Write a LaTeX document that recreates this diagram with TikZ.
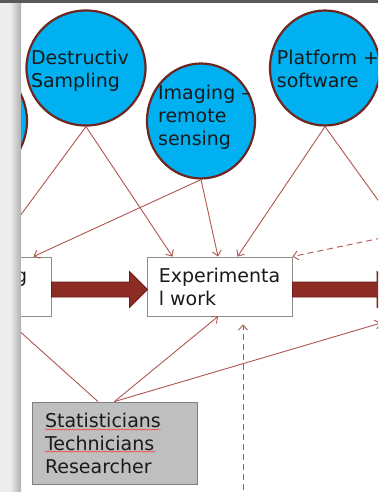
\documentclass[tikz,border=0pt]{standalone}
\usepackage{fontspec}
\setmainfont{DejaVu Sans}
\usetikzlibrary{arrows.meta,calc,shapes.geometric,decorations.pathmorphing}

\definecolor{bubblefill}{HTML}{00B0F0}
\definecolor{bubbleedge}{HTML}{6E261F}
\definecolor{connred}{HTML}{B05550}
\definecolor{fatred}{HTML}{8C2C25}
\definecolor{fatedge}{HTML}{6A1E19}
\definecolor{boxedge}{HTML}{8E8E8E}
\definecolor{staffgray}{HTML}{BFBFBF}
\definecolor{inktext}{HTML}{1A1A1A}

\def\slidefont{\fontsize{19}{23}\selectfont}
\tikzstyle{bubble}=[ellipse,draw=bubbleedge,line width=2.2pt,fill=bubblefill,inner sep=0pt]
\tikzstyle{bubbletext}=[inner sep=0pt,align=left,text=inktext,font=\slidefont]
\tikzstyle{workbox}=[rectangle,draw=boxedge,line width=0.9pt,fill=white,minimum width=145pt,minimum height=59pt,inner sep=0pt,align=left,text=inktext,font=\slidefont]
\tikzstyle{staffbox}=[rectangle,draw=gray,line width=0.9pt,fill=staffgray,text width=139pt,inner xsep=13pt,inner ysep=0pt,minimum height=82pt,align=left,text=inktext,font=\slidefont]
\tikzstyle{conn}=[draw=connred,line width=0.9pt,-{Straight Barb[length=5pt,width=9pt]}]
\tikzstyle{dconn}=[conn,dash pattern=on 6pt off 4pt]
\tikzstyle{fatbody}=[draw=fatedge,fill=fatred,line width=0.8pt,line join=miter]
\tikzstyle{spell}=[draw=red!80,line width=0.4pt,decorate,decoration={snake,amplitude=0.6pt,segment length=2.5pt}]

% thick block arrow from #1 to #2
\newcommand\fatarrow[2]{%
  \draw[fatbody] ($(#1)+(0,-4.5)$) -- ($(#2)+(-17,-4.5)$) -- ($(#2)+(-17,-15)$)
    -- ($(#2)+(1,3)$) -- ($(#2)+(-17,21)$) -- ($(#2)+(-17,10.5)$)
    -- ($(#1)+(0,10.5)$) -- cycle;}

\begin{document}
\begin{tikzpicture}[x=1pt,y=-1pt]
  \useasboundingbox (0,0) rectangle (378,492);
  % slide and its shadow
  \fill[white] (21,3) rectangle (378,492);
  \fill[gray!14] (0,3) rectangle (10,492);
  \shade[left color=gray!14,right color=gray!62] (10,3) rectangle (21,492);
  \fill[black!65] (0,0) rectangle (378,3);

  \begin{scope}
    \clip (21,3) rectangle (378,492);
    % bubbles
    \node[bubble,minimum width=110pt,minimum height=115pt] (leftc) at (-28,121) {};
    \node[bubble,minimum width=119pt,minimum height=115pt,
      label={[bubbletext,xshift=-6pt,yshift=-2.7pt]center:Destructiv\\Sampling}] (destr) at (86,68) {};
    \node[bubble,minimum width=108pt,minimum height=115pt,
      label={[bubbletext,xshift=3.5pt,yshift=3.5pt]center:Imaging –\\remote\\sensing}] (imaging) at (201,121) {};
    \node[bubble,minimum width=110pt,minimum height=115pt,
      label={[bubbletext,xshift=3pt,yshift=-1pt]center:Platform +\\software}] (platform) at (325,68) {};

    % boxes
    \node[workbox] (lbox) at (-21.5,286.5) {};
    \node[anchor=base west,inner sep=0pt,text=inktext,font=\slidefont] (lboxg) at (15,282) {g};
    \node[workbox] (exp) at (219.5,286.5) {Experimenta\\l work};
    \node[staffbox] (staff) at (114.5,443) {Statisticians\\Technicians\\Researcher};
    \draw[spell] ($(staff.north west)+(13,28)$) -- ++(116,0);
    \draw[spell] ($(staff.north west)+(13,50)$) -- ++(111,0);

    % ends outside the slide
    \coordinate (rboxw) at (394,286.5);
    \coordinate (rboxn) at (419,257);
    \coordinate (rboxs) at (381,323);
    \coordinate (dashsrc) at (470,219.5);
    \coordinate (botsrc) at (243,500);

    % block arrows
    \fatarrow{lbox.east}{exp.west}
    \fatarrow{exp.east}{rboxw}

    % connectors
    \draw[conn] (destr.south) -- ($(lbox.north)+(11.5,0)$);
    \draw[conn] (destr.south) -- ($(exp.north west)+(26,0)$);
    \draw[conn] (imaging.south) -- ($(lbox.north east)+(-18,0)$);
    \draw[conn] (imaging.south) -- ($(exp.north)+(-1.5,0)$);
    \draw[conn] (platform.south) -- ($(exp.north)+(18,0)$);
    \draw[conn] (platform.south) -- (rboxn);
    \draw[dconn] (dashsrc) -- (exp.north east);
    \draw[dconn] (botsrc) -- ($(exp.south)+(23.5,8)$);
    \draw[conn] ($(staff.north)+(-16.5,0)$) -- ($(lbox.south)+(33.5,8)$);
    \draw[conn] (staff.north) -- ($(exp.south)+(-1.5,0)$);
    \draw[conn] (staff.north) -- (rboxs);
  \end{scope}
\end{tikzpicture}
\end{document}
